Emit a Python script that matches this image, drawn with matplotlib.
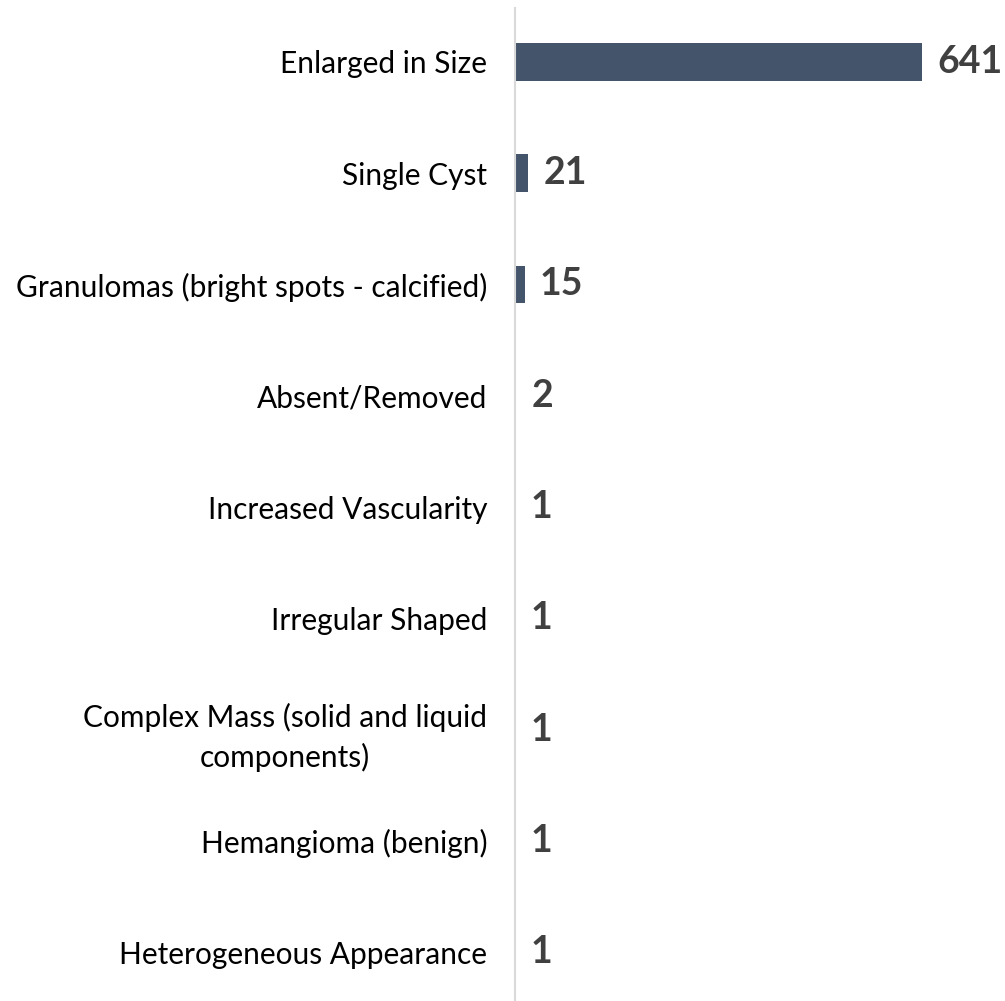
import matplotlib
import numpy as np

matplotlib.use("Agg")
import matplotlib.pyplot as plt

categories = [
    "Enlarged in Size",
    "Single Cyst",
    "Granulomas (bright spots - calcified)",
    "Absent/Removed",
    "Increased Vascularity",
    "Irregular Shaped",
    "Complex Mass (solid and liquid\ncomponents)",
    "Hemangioma (benign)",
    "Heterogeneous Appearance",
]
counts = [641, 21, 15, 2, 1, 1, 1, 1, 1]

BAR_COLOR = "#44546A"
VALUE_COLOR = "#404040"
AXIS_COLOR = "#D9D9D9"
FONT = "Lato"

fig = plt.figure(figsize=(10.05, 10.01), dpi=100)
ax = fig.add_axes([515 / 1005, 0.0, 1 - 515 / 1005, 993 / 1001])

ypos = np.arange(len(categories))
ax.barh(ypos, counts, height=0.34, color=BAR_COLOR)

xmax = 641 * 490 / 407
ax.set_xlim(0, xmax)
ax.set_ylim(len(categories) - 1 + 0.44, -0.485)

for y, v in zip(ypos, counts):
    ax.annotate(str(v), xy=(v, y), xytext=(11, 0), textcoords="offset points",
                va="center", ha="left", fontsize=27, fontweight="bold",
                color=VALUE_COLOR, family=FONT)

ax.set_yticks(ypos)
ax.set_yticklabels(categories, fontsize=21.5, family=FONT, color="black",
                   multialignment="center", linespacing=1.45)
ax.tick_params(axis="y", length=0, pad=20)
ax.set_xticks([])

for side in ("top", "right", "bottom"):
    ax.spines[side].set_visible(False)
ax.spines["left"].set_color(AXIS_COLOR)
ax.spines["left"].set_linewidth(1.5)

fig.savefig("out.png", dpi=100)
